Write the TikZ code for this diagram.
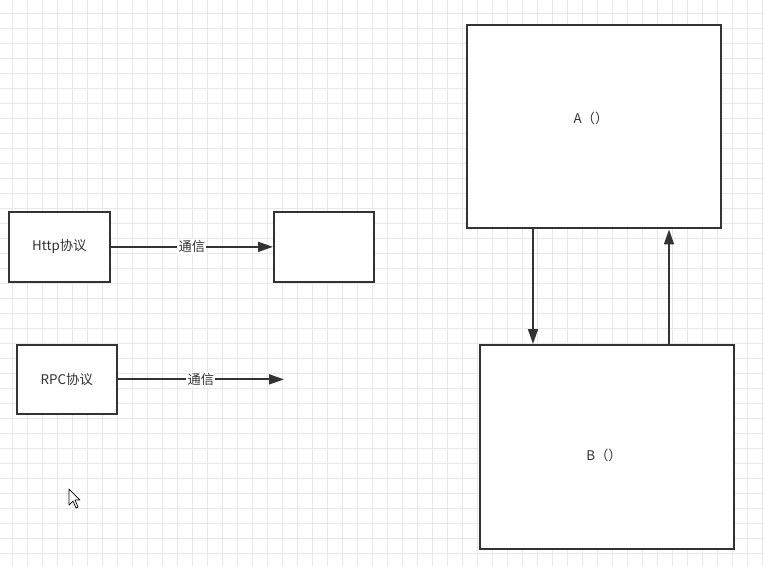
\documentclass[tikz,border=0pt]{standalone}
\usepackage{fontspec}
\setmainfont{Noto Sans CJK SC}
\usepackage{xcolor}
\usetikzlibrary{arrows.meta}

\definecolor{ink}{HTML}{333333}
\definecolor{gridline}{HTML}{E8E8E8}

\begin{document}
\begin{tikzpicture}[
    x=0.025cm, y=-0.025cm,
    font=\fontsize{9.5}{11}\selectfont,
    >={Triangle[length=10.6pt,width=7pt]},
    block/.style={
      draw=ink,
      fill=white,
      line width=1.4pt,
      text=ink,
      inner sep=0pt,
      anchor=north west
    },
    link/.style={
      ->,
      draw=ink,
      line width=1.4pt
    },
    tag/.style={
      fill=white,
      text=ink,
      inner sep=1pt,
      font=\fontsize{9.4}{11}\selectfont
    }
  ]

  % ========== Canvas ==========
  \useasboundingbox (0,0) rectangle (764,566);
  \fill[white] (0,0) rectangle (764,566);
  \foreach \gx in {12,27,...,762}
    \draw[gridline,line width=0.5pt] (\gx,0) -- (\gx,566);
  \foreach \gy in {13,28,...,565}
    \draw[gridline,line width=0.5pt] (0,\gy) -- (764,\gy);

  % ========== Protocols ==========
  \node[block,minimum width=71.6pt,minimum height=49.6pt] (http) at (8,211)
    {Http协议};
  \node[block,minimum width=70.9pt,minimum height=49.6pt] (peer) at (273,211) {};
  \node[block,minimum width=70.9pt,minimum height=48.9pt] (rpc) at (16,344)
    {RPC协议};
  \coordinate (rpcEnd) at (rpc.east -| 284,0);

  \draw[link] (http) -- node[tag]{通信} (peer);
  \draw[link] (rpc.east) -- node[tag]{通信} (rpcEnd);

  % ========== Services ==========
  \node[block,minimum width=180.8pt,minimum height=144.7pt] (svcA) at (466,24) {};
  \node[block,minimum width=180.8pt,minimum height=145.3pt] (svcB) at (479,344) {};
  \node[text=ink] (nameA) at (591,118) {A（）};
  \node[text=ink] (nameB) at (604,455) {B（）};

  \draw[link] (svcA.south -| 533,0) -- (svcB.north -| 533,0);
  \draw[link] (svcB.north -| 669,0) -- (svcA.south -| 669,0);

  % mouse pointer
  \draw[black,fill=white,line width=0.5pt,line join=round]
    (69,489) -- (69,505) -- (73,501) -- (76,508) -- (78,507)
    -- (75,500) -- (80,500) -- cycle;
\end{tikzpicture}
\end{document}
